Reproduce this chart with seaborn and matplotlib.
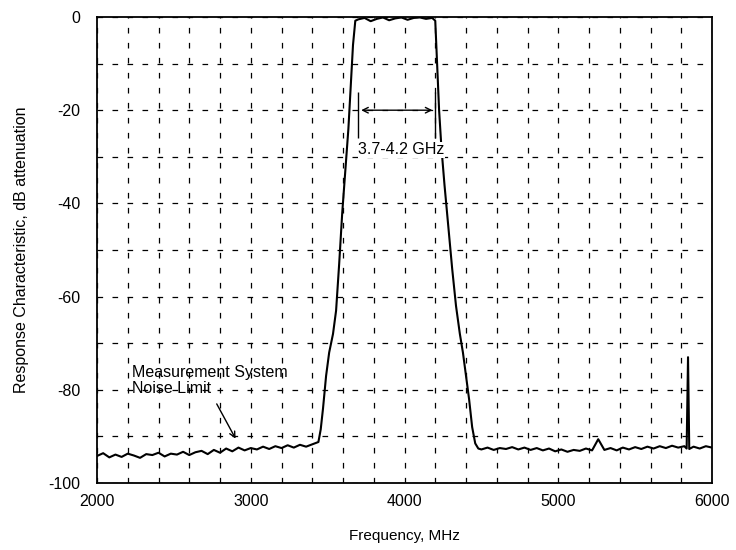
import pandas as pd
import seaborn as sns
import matplotlib.pyplot as plt
from matplotlib.ticker import MultipleLocator

# Frequência (MHz) e atenuação (dB)
freq_low = [2000, 2040, 2080, 2120, 2160, 2200, 2240, 2280, 2320, 2360, 2400, 2440,
            2480, 2520, 2560, 2600, 2640, 2680, 2720, 2760, 2800, 2840, 2880, 2920,
            2960, 3000, 3040, 3080, 3120, 3160, 3200, 3240, 3280, 3320, 3360, 3400]
att_low = [-94.2, -93.6, -94.5, -93.9, -94.4, -93.7, -94.1, -94.6, -93.8, -94.0, -93.5, -94.3,
           -93.7, -93.9, -93.3, -94.0, -93.4, -93.1, -93.8, -92.9, -93.5, -92.6, -93.2, -92.4,
           -93.0, -92.5, -92.8, -92.2, -92.7, -92.1, -92.5, -91.9, -92.4, -91.8, -92.2, -91.7]

freq_rise = [3440, 3455, 3470, 3490, 3510, 3535, 3555, 3575, 3595, 3615, 3635, 3650, 3665, 3680]
att_rise = [-91.2, -88.5, -84, -77, -72, -68, -63, -53, -42, -33, -24, -15, -6, -0.8]

freq_top = [3700, 3740, 3780, 3820, 3860, 3900, 3940, 3980, 4020, 4060, 4100, 4140, 4180, 4200]
att_top = [-0.5, -0.2, -0.9, -0.4, -0.1, -0.7, -0.3, -0.1, -0.6, -0.2, -0.1, -0.4, -0.2, -0.8]

freq_fall = [4212, 4225, 4240, 4260, 4285, 4310, 4335, 4360, 4380, 4400, 4420, 4440, 4460, 4480]
att_fall = [-10, -20, -28, -36, -45, -54, -62, -68, -72, -77, -82, -88, -91.5, -92.6]

freq_high = [4500, 4540, 4580, 4620, 4660, 4700, 4740, 4780, 4820, 4860, 4900, 4940,
             4980, 5020, 5060, 5100, 5140, 5180, 5220, 5260, 5300, 5340, 5380, 5420,
             5460, 5500, 5540, 5580, 5620, 5660, 5700, 5740, 5780, 5820, 5835, 5844,
             5852, 5880, 5920, 5960, 6000]
att_high = [-92.8, -92.4, -92.9, -92.5, -92.7, -92.3, -92.8, -92.4, -92.9, -92.5, -93.0, -92.6,
            -93.2, -92.8, -93.3, -92.9, -93.1, -92.6, -93.0, -90.6, -92.9, -92.5, -93.0, -92.4,
            -92.8, -92.3, -92.7, -92.2, -92.6, -92.1, -92.5, -92.0, -92.4, -92.1, -92.6, -73.0,
            -92.7, -92.2, -92.6, -92.1, -92.4]

band_edges = [3700, 4200]

df = pd.DataFrame({
    'freq': freq_low + freq_rise + freq_top + freq_fall + freq_high,
    'att': att_low + att_rise + att_top + att_fall + att_high,
})

sns.set_style('white')
plt.rcParams['font.family'] = ['Liberation Sans', 'DejaVu Sans']
plt.rcParams['axes.unicode_minus'] = False
plt.rcParams['text.color'] = 'black'
plt.rcParams['axes.labelcolor'] = 'black'
plt.rcParams['xtick.color'] = 'black'
plt.rcParams['ytick.color'] = 'black'

fig = plt.figure(figsize=(7.36, 5.5), dpi=100)
ax = fig.add_axes([0.1318, 0.1218, 0.8356, 0.8473])

sns.lineplot(data=df, x='freq', y='att', color='black', linewidth=1.5, sort=False, ax=ax)

ax.set_xlim(2000, 6000)
ax.set_ylim(-100, 0)
ax.xaxis.set_major_locator(MultipleLocator(1000))
ax.xaxis.set_minor_locator(MultipleLocator(200))
ax.yaxis.set_major_locator(MultipleLocator(20))
ax.yaxis.set_minor_locator(MultipleLocator(10))
ax.grid(which='both', color='black', linestyle=(0, (4.5, 7.5)), linewidth=0.9)

for s in ax.spines.values():
    s.set_color('black')
    s.set_linewidth(1.3)

ax.tick_params(axis='x', which='both', direction='in', length=4, color='black', labelsize=11.5, pad=8)
ax.tick_params(axis='y', which='both', length=0, labelsize=11.5, pad=12)

ax.set_xlabel('Frequency, MHz', fontsize=11, labelpad=14)
ax.set_ylabel('Response Characteristic, dB attenuation', fontsize=11.5, labelpad=14)

# anotação da banda passante
ax.vlines(band_edges, -26, -16, color='black', linewidth=1)
ax.annotate('', xy=(band_edges[0], -20), xytext=(band_edges[1], -20),
            arrowprops=dict(arrowstyle='<->', color='black', lw=1))
ax.text(3700, -28.5, '3.7-4.2 GHz', fontsize=11.5, ha='left', va='center',
        bbox=dict(facecolor='white', edgecolor='none', pad=0.5))

# anotação do limite de ruído
ax.text(2230, -78, 'Measurement System\nNoise Limit', fontsize=11.5, ha='left', va='center',
        linespacing=1.05)
ax.annotate('', xy=(2910, -91), xytext=(2770, -82.5),
            arrowprops=dict(arrowstyle='->', color='black', lw=1))

plt.savefig('out.png', dpi=100)
